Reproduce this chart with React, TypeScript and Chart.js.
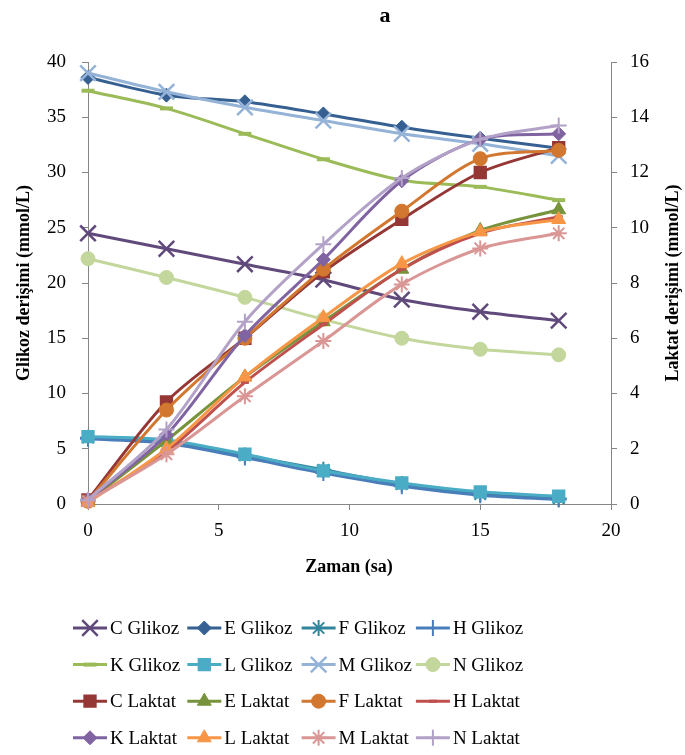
import React, { useEffect, useRef } from 'react';
import { Chart, registerables } from 'chart.js';
import { drawPoint } from 'chart.js/helpers';

Chart.register(...registerables);

const times = [0, 3, 6, 9, 12, 15, 18];
const xTicks = [0, 5, 10, 15, 20];
const leftTicks = [0, 5, 10, 15, 20, 25, 30, 35, 40];
const rightTicks = [0, 2, 4, 6, 8, 10, 12, 14, 16];

const cGlikoz = [24.5, 23.1, 21.7, 20.3, 18.5, 17.4, 16.6];
const eGlikoz = [38.6, 37.0, 36.4, 35.3, 34.1, 33.1, 32.2];
const fGlikoz = [6.0, 5.7, 4.4, 3.1, 1.8, 0.9, 0.5];
const hGlikoz = [5.9, 5.5, 4.2, 2.8, 1.6, 0.8, 0.4];
const kGlikoz = [37.4, 35.8, 33.5, 31.2, 29.3, 28.7, 27.5];
const lGlikoz = [6.1, 5.8, 4.5, 3.0, 1.9, 1.1, 0.7];
const mGlikoz = [39.0, 37.3, 35.9, 34.7, 33.5, 32.6, 31.5];
const nGlikoz = [22.2, 20.5, 18.7, 16.7, 15.0, 14.0, 13.5];
const cLaktat = [0.15, 3.7, 6.0, 8.4, 10.3, 12.0, 12.9];
const eLaktat = [0.1, 2.3, 4.6, 6.6, 8.5, 9.9, 10.65];
const fLaktat = [0.1, 3.4, 6.0, 8.5, 10.6, 12.5, 12.8];
const hLaktat = [0.1, 1.9, 4.4, 6.5, 8.5, 9.8, 10.4];
const kLaktat = [0.15, 2.5, 6.1, 8.85, 11.7, 13.2, 13.4];
const lLaktat = [0.05, 2.0, 4.6, 6.75, 8.7, 9.85, 10.3];
const mLaktat = [0.1, 1.8, 3.9, 5.9, 7.95, 9.25, 9.8];
const nLaktat = [0.15, 2.7, 6.6, 9.4, 11.8, 13.2, 13.7];

type Series = { label: string; data: number[]; color: string; style: string; r: number; bw: number; axis: string };

const series: Series[] = [
  { label: 'C Glikoz', data: cGlikoz, color: '#604A7B', style: 'crossRot', r: 11, bw: 2.5, axis: 'y' },
  { label: 'E Glikoz', data: eGlikoz, color: '#376092', style: 'rectRot', r: 7, bw: 1, axis: 'y' },
  { label: 'F Glikoz', data: fGlikoz, color: '#31859C', style: 'star', r: 8, bw: 2, axis: 'y' },
  { label: 'H Glikoz', data: hGlikoz, color: '#4A7EBB', style: 'cross', r: 8, bw: 2, axis: 'y' },
  { label: 'K Glikoz', data: kGlikoz, color: '#9BBB59', style: 'line', r: 6.5, bw: 4, axis: 'y' },
  { label: 'L Glikoz', data: lGlikoz, color: '#4BACC6', style: 'rect', r: 8, bw: 2, axis: 'y' },
  { label: 'M Glikoz', data: mGlikoz, color: '#95B3D7', style: 'crossRot', r: 11, bw: 2.5, axis: 'y' },
  { label: 'N Glikoz', data: nGlikoz, color: '#C3D69B', style: 'circle', r: 7, bw: 1, axis: 'y' },
  { label: 'C Laktat', data: cLaktat, color: '#953735', style: 'rect', r: 8, bw: 2, axis: 'y1' },
  { label: 'E Laktat', data: eLaktat, color: '#77933C', style: 'triangle', r: 8, bw: 1, axis: 'y1' },
  { label: 'F Laktat', data: fLaktat, color: '#D2772F', style: 'circle', r: 7, bw: 1, axis: 'y1' },
  { label: 'H Laktat', data: hLaktat, color: '#C0504D', style: 'line', r: 4, bw: 3, axis: 'y1' },
  { label: 'K Laktat', data: kLaktat, color: '#8064A2', style: 'rectRot', r: 7, bw: 1, axis: 'y1' },
  { label: 'L Laktat', data: lLaktat, color: '#F79646', style: 'triangle', r: 8, bw: 1, axis: 'y1' },
  { label: 'M Laktat', data: mLaktat, color: '#D99694', style: 'star', r: 8, bw: 2, axis: 'y1' },
  { label: 'N Laktat', data: nLaktat, color: '#B3A2C7', style: 'cross', r: 8, bw: 2, axis: 'y1' },
];

const FONT = '"Liberation Serif", "Times New Roman", serif';
const AXIS_GREY = '#868686';

const decorPlugin = {
  id: 'decor',
  afterDraw(chart: any) {
    const ctx = chart.ctx as CanvasRenderingContext2D;
    ctx.save();
    ctx.fillStyle = '#000';
    ctx.textAlign = 'center';
    ctx.textBaseline = 'middle';
    ctx.font = `bold 22px ${FONT}`;
    ctx.fillText('a', 385, 16);
    ctx.font = `bold 18px ${FONT}`;
    ctx.fillText('Zaman (sa)', 349, 567);
    ctx.save();
    ctx.translate(24, 283);
    ctx.rotate(-Math.PI / 2);
    ctx.fillText('Glikoz derişimi (mmol/L)', 0, 0);
    ctx.restore();
    ctx.save();
    ctx.translate(673, 283);
    ctx.rotate(-Math.PI / 2);
    ctx.fillText('Laktat derişimi (mmol/L)', 0, 0);
    ctx.restore();

    // legend
    ctx.font = `19px ${FONT}`;
    ctx.textAlign = 'left';
    series.forEach((s, i) => {
      const col = i % 4;
      const row = Math.floor(i / 4);
      const x0 = 73 + col * 114.3;
      const y = 628 + row * 36.6;
      ctx.save();
      ctx.strokeStyle = s.color;
      ctx.lineWidth = 3;
      ctx.lineCap = 'butt';
      ctx.beginPath();
      ctx.moveTo(x0, y);
      ctx.lineTo(x0 + 34, y);
      ctx.stroke();
      ctx.fillStyle = s.color;
      ctx.strokeStyle = s.color;
      ctx.lineWidth = s.bw;
      drawPoint(ctx, { pointStyle: s.style as any, radius: s.r, rotation: 0, borderWidth: s.bw }, x0 + 17, y);
      ctx.restore();
      ctx.fillStyle = '#000';
      ctx.fillText(s.label, x0 + 37, y + 1);
    });
    ctx.restore();
  },
};

export default function App() {
  const ref = useRef<HTMLCanvasElement | null>(null);
  useEffect(() => {
    if (!ref.current) return;
    const chart = new Chart(ref.current, {
      type: 'line',
      data: {
        datasets: series.map((s, i) => ({
          label: s.label,
          data: times.map((t, k) => ({ x: t, y: s.data[k] })),
          yAxisID: s.axis,
          borderColor: s.color,
          backgroundColor: s.color,
          borderWidth: 3,
          tension: 0.3,
          pointStyle: s.style as any,
          pointRadius: s.r,
          pointBorderWidth: s.bw,
          pointBorderColor: s.color,
          pointBackgroundColor: s.color,
          order: 16 - i,
          clip: false as any,
        })),
      },
      options: {
        responsive: false,
        animation: false,
        devicePixelRatio: 1,
        layout: { padding: { top: 62, left: 0, right: 0, bottom: 0 } },
        plugins: {
          legend: { display: false },
          title: { display: false },
          tooltip: { enabled: false },
        },
        scales: {
          x: {
            type: 'linear',
            min: 0,
            max: 20,
            afterBuildTicks: (sc: any) => { sc.ticks = xTicks.map((v) => ({ value: v })); },
            afterFit: (sc: any) => { sc.height = 251; },
            ticks: { color: '#000', font: { family: FONT, size: 19 }, padding: 10, maxRotation: 0 },
            grid: { drawOnChartArea: false, drawTicks: true, tickLength: 6, color: AXIS_GREY },
            border: { color: AXIS_GREY, width: 1 },
          },
          y: {
            type: 'linear',
            position: 'left',
            min: 0,
            max: 40,
            afterBuildTicks: (sc: any) => { sc.ticks = leftTicks.map((v) => ({ value: v })); },
            afterFit: (sc: any) => { sc.width = 88; },
            ticks: { color: '#000', font: { family: FONT, size: 19 }, padding: 16 },
            grid: { drawOnChartArea: false, drawTicks: true, tickLength: 6, color: AXIS_GREY },
            border: { color: AXIS_GREY, width: 1 },
          },
          y1: {
            type: 'linear',
            position: 'right',
            min: 0,
            max: 16,
            afterBuildTicks: (sc: any) => { sc.ticks = rightTicks.map((v) => ({ value: v })); },
            afterFit: (sc: any) => { sc.width = 74; },
            ticks: { color: '#000', font: { family: FONT, size: 19 }, padding: 13 },
            grid: { drawOnChartArea: false, drawTicks: true, tickLength: 6, color: AXIS_GREY },
            border: { color: AXIS_GREY, width: 1 },
          },
        },
      },
      plugins: [decorPlugin],
    } as any);
    return () => chart.destroy();
  }, []);
  return (
    <div style={{ position: 'absolute', left: 0, top: 0, width: 685, height: 755, background: '#fff' }}>
      <canvas ref={ref} width={685} height={755} style={{ display: 'block', width: 685, height: 755 }} />
    </div>
  );
}
